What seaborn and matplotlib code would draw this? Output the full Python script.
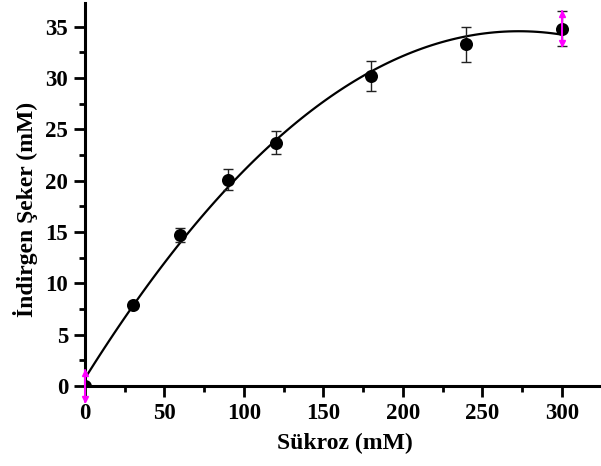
import numpy as np
import pandas as pd
import matplotlib
matplotlib.use("Agg")
import matplotlib.pyplot as plt
import seaborn as sns
from matplotlib.ticker import MultipleLocator

# Data
sukroz = [0, 30, 60, 90, 120, 180, 240, 300]
seker = [0.0, 7.9, 14.7, 20.1, 23.7, 30.2, 33.3, 34.8]
hata = [1.6, 0.3, 0.7, 1.0, 1.1, 1.5, 1.7, 1.7]
x_ticks = [0, 50, 100, 150, 200, 250, 300]
y_ticks = [0, 5, 10, 15, 20, 25, 30, 35]

df = pd.DataFrame({"Sükroz": sukroz, "Şeker": seker, "Hata": hata})

sns.set_style("ticks")
plt.rcParams["font.family"] = ["Liberation Serif", "DejaVu Serif"]
plt.rcParams["font.weight"] = "bold"
plt.rcParams["text.color"] = "black"
plt.rcParams["axes.labelcolor"] = "black"

fig = plt.figure(figsize=(6.01, 4.66), dpi=100)
ax = fig.add_axes([85 / 601, 80 / 466, 515 / 601, 383 / 466])

# fitted quadratic curve
sns.regplot(data=df, x="Sükroz", y="Şeker", order=2, ci=None, scatter=False,
            line_kws=dict(color="black", lw=1.6), ax=ax, truncate=True)

# error bars (black)
ax.errorbar(df["Sükroz"][1:], df["Şeker"][1:], yerr=df["Hata"][1:], fmt="none",
            ecolor="#222222", elinewidth=1.0, capsize=3.5, capthick=1.0, zorder=3)

# points
sns.scatterplot(data=df, x="Sükroz", y="Şeker", color="black", s=88,
                edgecolor="black", linewidth=0, ax=ax, zorder=4)

# magenta arrow error bars at first and last point
for i in [0, len(sukroz) - 1]:
    xv, yv, e = sukroz[i], seker[i], hata[i]
    ax.plot([xv, xv], [yv - e, yv + e], color="magenta", lw=1.5, zorder=5, clip_on=False)
    ax.plot([xv], [yv + e - 0.3], marker="^", color="magenta", ms=5, zorder=5, clip_on=False)
    ax.plot([xv], [yv - e + 0.3], marker="v", color="magenta", ms=5, zorder=5, clip_on=False)

ax.set_xlim(0, 324)
ax.set_ylim(0, 37.3)
ax.set_xticks(x_ticks)
ax.set_yticks(y_ticks)
ax.xaxis.set_minor_locator(MultipleLocator(25))
ax.yaxis.set_minor_locator(MultipleLocator(2.5))

for s in ["top", "right"]:
    ax.spines[s].set_visible(False)
for s in ["left", "bottom"]:
    ax.spines[s].set_linewidth(2.2)
    ax.spines[s].set_color("black")

ax.tick_params(which="major", direction="out", length=8, width=2, labelsize=16.5,
               colors="black", labelcolor="black", pad=4)
ax.tick_params(which="minor", direction="out", length=4, width=2, colors="black")
for lab in ax.get_xticklabels() + ax.get_yticklabels():
    lab.set_fontweight("bold")

ax.set_xlabel("Sükroz (mM)", fontsize=17, fontweight="bold", color="black")
ax.set_ylabel("İndirgen Şeker (mM)", fontsize=17, fontweight="bold", color="black")
ax.xaxis.set_label_coords(0.505, -0.122)
ax.yaxis.set_label_coords(-0.091, 0.462)

fig.savefig("out.png", dpi=100)
